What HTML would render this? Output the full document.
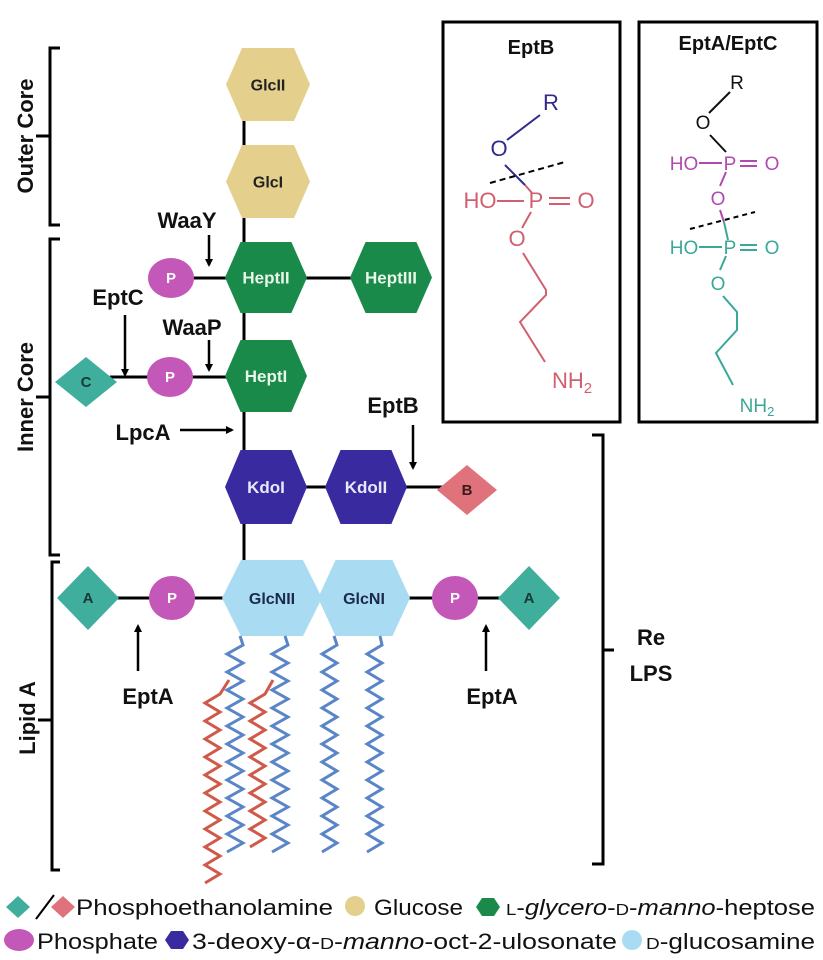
<!DOCTYPE html>
<html><head><meta charset="utf-8"><style>
html,body{margin:0;padding:0;background:#fff;}
svg{display:block;}
text{font-family:"Liberation Sans",sans-serif;}
</style></head><body>
<svg id="s" width="823" height="960" viewBox="0 0 823 960" xmlns="http://www.w3.org/2000/svg">
<defs>
<marker id="ar" markerWidth="8" markerHeight="8" refX="6" refY="4" orient="auto" markerUnits="userSpaceOnUse"><path d="M0,0 L8,4 L0,8 z" fill="#000"/></marker>
</defs>
<g stroke="#000" stroke-width="3" fill="none">
<!-- left brackets -->
<path d="M60,48 H50 V225 H60"/><path d="M50,136 H36"/>
<path d="M60,239 H50 V555 H60"/><path d="M50,397 H36"/>
<path d="M60,562 H52 V870 H60"/><path d="M52,720 H38"/>
<!-- right bracket -->
<path d="M592,435 H603 V864 H592"/><path d="M603,650 H614"/>
<!-- spine -->
<path d="M244,100 V575"/>
<path d="M190,278 H260"/><path d="M300,278 H380"/>
<path d="M110,377 H260"/>
<path d="M300,487 H340"/><path d="M395,487 H450"/>
<path d="M110,598 H240"/><path d="M300,598 H340"/><path d="M395,598 H510"/>
</g>
<g stroke="#000" stroke-width="2.5" fill="none" marker-end="url(#ar)">
<path d="M209,235 V265"/>
<path d="M209,340 V370"/>
<path d="M125,315 V375"/>
<path d="M180,430 H232"/>
<path d="M413,425 V468"/>
<path d="M138,671 V626"/>
<path d="M486,671 V626"/>
</g>
<!-- boxes -->
<rect x="443" y="22" width="177" height="400" fill="none" stroke="#000" stroke-width="3"/>
<rect x="639" y="22" width="178" height="400" fill="none" stroke="#000" stroke-width="3"/>
<g id="hex"></g>
<g id="chains" fill="none" stroke-width="3" stroke-linejoin="miter"></g>
<!-- P ellipses -->
<g fill="#c458b8">
<ellipse cx="171" cy="278" rx="23" ry="20"/>
<ellipse cx="170" cy="377" rx="23" ry="20"/>
<ellipse cx="172" cy="598" rx="23" ry="22"/>
<ellipse cx="455" cy="598" rx="23" ry="22"/>
</g>
<g fill="#3fae9c">
<polygon points="55,382 86,357 117,382 86,407"/>
<polygon points="57,598 88,566 119,598 88,630"/>
<polygon points="498,598 529,566 560,598 529,630"/>
</g>
<polygon points="437,490 467,465 497,490 467,515" fill="#e0727c"/>
<g font-weight="bold" text-anchor="middle" font-size="15">
<text x="171" y="283" fill="#fff">P</text>
<text x="170" y="382" fill="#fff">P</text>
<text x="172" y="603" fill="#fff">P</text>
<text x="455" y="603" fill="#fff">P</text>
<text x="86" y="387" fill="#1a3a36">C</text>
<text x="88" y="603" fill="#1a3a36">A</text>
<text x="529" y="603" fill="#1a3a36">A</text>
<text x="467" y="495" fill="#3a1a1a">B</text>
</g>
<!-- labels -->
<g font-weight="bold" font-size="22" fill="#111" text-anchor="middle">
<text x="187" y="228">WaaY</text>
<text x="118" y="305">EptC</text>
<text x="192" y="335">WaaP</text>
<text x="143" y="440">LpcA</text>
<text x="393" y="413">EptB</text>
<text x="148" y="704">EptA</text>
<text x="492" y="704">EptA</text>
<text x="651" y="645">Re</text>
<text x="651" y="681">LPS</text>
<text transform="translate(33,136) rotate(-90)">Outer Core</text>
<text transform="translate(33,397) rotate(-90)">Inner Core</text>
<text transform="translate(35,718) rotate(-90)">Lipid A</text>
<text x="531" y="54" font-size="20">EptB</text>
<text x="728" y="50" font-size="20">EptA/EptC</text>
</g>
<!-- chemistry EptB -->
<g font-size="22" text-anchor="middle">
<text x="551" y="110" fill="#2f2a8c">R</text>
<text x="499" y="156" fill="#2f2a8c">O</text>
<text x="480" y="208" fill="#d06070">HO</text>
<text x="536" y="208" fill="#d06070">P</text>
<text x="586" y="208" fill="#d06070">O</text>
<text x="517" y="246" fill="#d06070">O</text>
<text x="572" y="388" fill="#d06070">NH<tspan font-size="15" dy="5">2</tspan></text>
</g>
<g stroke-width="2" fill="none">
<path d="M507,140 L540,115" stroke="#2f2a8c"/>
<path d="M505,165 L525,185" stroke="#2f2a8c"/>
<path d="M525,185 L532,193" stroke="#d06070"/>
<path d="M490,183 L565,162" stroke="#000" stroke-dasharray="6,4"/>
<path d="M497,201 H524 M549,198 H570 M549,204 H570 M531,212 L522,228 M523,253 L546,290 L546,295 L520,322 L545,362" stroke="#d06070"/>
</g>
<!-- chemistry EptA/EptC -->
<g font-size="19" text-anchor="middle">
<text x="737" y="89" fill="#111">R</text>
<text x="703" y="129" fill="#111">O</text>
<text x="684" y="170" fill="#b04ab0">HO</text>
<text x="730" y="170" fill="#b04ab0">P</text>
<text x="772" y="170" fill="#b04ab0">O</text>
<text x="718" y="205" fill="#b04ab0">O</text>
<text x="684" y="254" fill="#3aa896">HO</text>
<text x="730" y="254" fill="#3aa896">P</text>
<text x="772" y="254" fill="#3aa896">O</text>
<text x="718" y="290" fill="#3aa896">O</text>
<text x="757" y="412" fill="#3aa896">NH<tspan font-size="13" dy="4">2</tspan></text>
</g>
<g stroke-width="2" fill="none">
<path d="M709,113 L730,92 M710,135 L726,152" stroke="#111"/>
<path d="M699,163 H722 M740,161 H757 M740,166 H757 M726,172 L720,186" stroke="#b04ab0"/>
<path d="M720,210 L724,222" stroke="#b04ab0"/>
<path d="M724,222 L728,240" stroke="#3aa896"/>
<path d="M690,229 L755,212" stroke="#000" stroke-dasharray="5,4"/>
<path d="M699,247 H722 M740,245 H757 M740,250 H757 M726,256 L720,270 M723,296 L737,312 L737,330 L716,353 L733,385" stroke="#3aa896"/>
</g>
<!-- legend -->
<polygon points="6,907 18,896 30,907 18,918" fill="#3fae9c"/>
<path d="M36,919 L54,895" stroke="#000" stroke-width="2"/>
<polygon points="51,907 63,896 75,907 63,918" fill="#e0727c"/>
<circle cx="355" cy="906" r="10" fill="#e4d08c"/>
<polygon points="482,898 494,898 500,907 494,916 482,916 476,907" fill="#1a8a4a"/>
<ellipse cx="19" cy="940" rx="15" ry="11" fill="#c458b8"/>
<polygon points="171,931 183,931 189,940 183,949 171,949 165,940" fill="#3a2aa0"/>
<circle cx="632" cy="940" r="10" fill="#a9dcf2"/>
<g font-size="22" fill="#111">
<text x="76" y="915" textLength="257" lengthAdjust="spacingAndGlyphs">Phosphoethanolamine</text>
<text x="374" y="915" textLength="89" lengthAdjust="spacingAndGlyphs">Glucose</text>
<text x="506" y="915" textLength="309" lengthAdjust="spacingAndGlyphs"><tspan font-size="16">L</tspan>-<tspan font-style="italic">glycero</tspan>-<tspan font-size="16">D</tspan>-<tspan font-style="italic">manno</tspan>-heptose</text>
<text x="37" y="949" textLength="121" lengthAdjust="spacingAndGlyphs">Phosphate</text>
<text x="192" y="949" textLength="425" lengthAdjust="spacingAndGlyphs">3-deoxy-α-<tspan font-size="16">D</tspan>-<tspan font-style="italic">manno</tspan>-oct-2-ulosonate</text>
<text x="646" y="949" textLength="169" lengthAdjust="spacingAndGlyphs"><tspan font-size="16">D</tspan>-glucosamine</text>
</g>
</svg>
<script>
(function(){
var NS="http://www.w3.org/2000/svg";
var hg=document.getElementById('hex');
function hex(x0,x1,y0,y1,fill,label,tc,fs){
 var w=x1-x0,cy=(y0+y1)/2,i=w*0.19;
 var p=document.createElementNS(NS,'polygon');
 p.setAttribute('points',[x0+i,y0,x1-i,y0,x1,cy,x1-i,y1,x0+i,y1,x0,cy].join(' '));
 p.setAttribute('fill',fill);hg.appendChild(p);
 var t=document.createElementNS(NS,'text');
 t.setAttribute('x',(x0+x1)/2);t.setAttribute('y',cy+6);t.setAttribute('text-anchor','middle');
 t.setAttribute('font-weight','bold');t.setAttribute('font-size',fs||17);t.setAttribute('fill',tc);
 t.textContent=label;hg.appendChild(t);
}
hex(226,310,48,121,'#e4d08c','GlcII','#222',16);
hex(226,310,145,218,'#e4d08c','GlcI','#222',16);
hex(225,307,242,313,'#1a8a4a','HeptII','#e8f5e8');
hex(350,432,242,313,'#1a8a4a','HeptIII','#e8f5e8');
hex(225,307,340,412,'#1a8a4a','HeptI','#e8f5e8');
hex(225,307,450,524,'#3a2aa0','KdoI','#e8e8f8');
hex(325,407,450,524,'#3a2aa0','KdoII','#e8e8f8');
hex(222,322,560,636,'#a9dcf2','GlcNII','#1a2a4a',16);
hex(318,410,560,636,'#a9dcf2','GlcNI','#1a2a4a',16);
var cg=document.getElementById('chains');
function zig(xa,xb,y0,y1,col,start){
 var d='M'+start[0]+','+start[1],s=9,y=y0,k=0;
 while(y<=y1){d+=' L'+(k%2?xa:xb)+','+y;y+=s;k++;}
 var p=document.createElementNS(NS,'path');p.setAttribute('d',d);p.setAttribute('stroke',col);cg.appendChild(p);
}
zig(227,243,645,853,'#5a86c8',[240,636]);
zig(272,288,645,853,'#5a86c8',[285,636]);
zig(322,337,645,853,'#5a86c8',[334,636]);
zig(367,382,645,853,'#5a86c8',[380,636]);
zig(205,220,694,888,'#d05a4a',[229,680]);
zig(250,265,694,855,'#d05a4a',[273,680]);
})();
</script>
</body></html>
